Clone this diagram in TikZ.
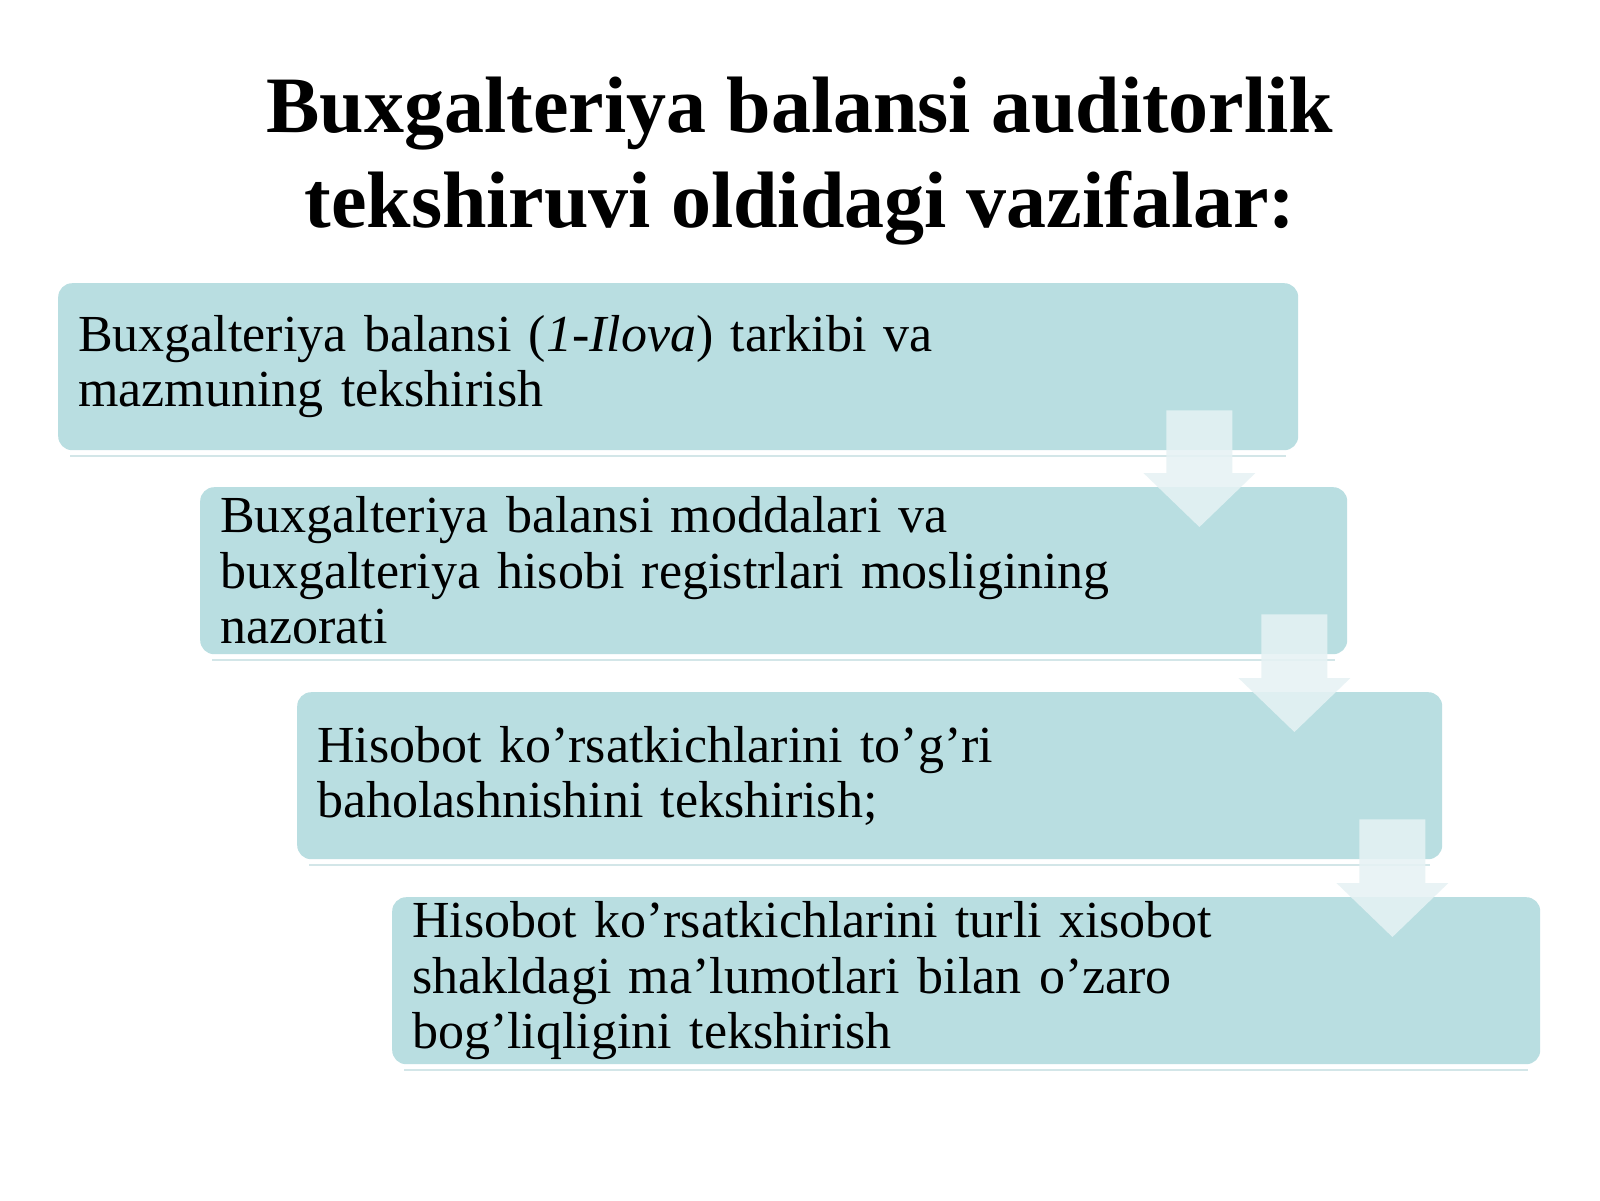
\documentclass[tikz,border=0pt]{standalone}
\usepackage{fontspec}
\setmainfont{Liberation Serif}
\usetikzlibrary{calc}
\definecolor{boxfill}{HTML}{B9DEE1}
\definecolor{arrowfill}{HTML}{E6F2F4}
\definecolor{shadowcol}{HTML}{D3E6E8}
\newcommand\boxfont{\fontsize{52}{55.5}\selectfont\spaceskip=\fontdimen2\font plus 2pt\relax\advance\spaceskip by 2.5pt\relax}
\tikzset{
  stepbox/.style={draw=none, fill=boxfill, rounded corners=14pt, anchor=north west,
    inner xsep=20pt, inner ysep=0pt, align=left, minimum height=167pt,
    font=\boxfont, text=black},
  titletext/.style={anchor=base, font=\fontsize{80}{95}\selectfont\bfseries, text=black},
  blockarrow/.style={fill=arrowfill, fill opacity=0.85, draw=none},
  shadowline/.style={draw=shadowcol, line width=2pt}
}
\newcommand\stepArrow[2]{%
  \path[blockarrow] let \p1=(#2.north east), \p2=(#1.south) in
    (\x1-181pt,\y2+40pt) -- (\x1-115pt,\y2+40pt) -- (\x1-115pt,\y1+14pt) --
    (\x1-92pt,\y1+14pt) -- (\x1-148pt,\y1-40pt) -- (\x1-204pt,\y1+14pt) --
    (\x1-181pt,\y1+14pt) -- cycle;}
\newcommand\underLine[1]{%
  \draw[shadowline] ([xshift=12pt,yshift=-6pt]#1.south west) -- ([xshift=-12pt,yshift=-6pt]#1.south east);}
\begin{document}
\begin{tikzpicture}[x=1pt,y=-1pt]
  \useasboundingbox (0,0) rectangle (1600,1200);
  \fill[white] (0,0) rectangle (1600,1200);
  \node[titletext] (t1) at (800,132) {Buxgalteriya balansi auditorlik};
  \node[titletext] (t2) at (800,227) {tekshiruvi oldidagi vazifalar:};
  \node[stepbox, minimum width=1240pt, text width=1200pt] (b1) at (58,283)
    {Buxgalteriya balansi (\textit{1-Ilova}) tarkibi va\\ mazmuning tekshirish};
  \node[stepbox, minimum width=1147pt, text width=1107pt] (b2) at (200,487)
    {Buxgalteriya balansi moddalari va\\ buxgalteriya hisobi registrlari mosligining\\ nazorati};
  \node[stepbox, minimum width=1145pt, text width=1105pt] (b3) at (297,692)
    {Hisobot ko’rsatkichlarini to’g’ri\\ baholashnishini tekshirish;};
  \node[stepbox, minimum width=1148pt, text width=1108pt] (b4) at (392,897)
    {Hisobot ko’rsatkichlarini turli xisobot\\ shakldagi ma’lumotlari bilan o’zaro\\ bog’liqligini tekshirish};
  \underLine{b1}
  \underLine{b2}
  \underLine{b3}
  \underLine{b4}
  \stepArrow{b1}{b2}
  \stepArrow{b2}{b3}
  \stepArrow{b3}{b4}
\end{tikzpicture}
\end{document}
